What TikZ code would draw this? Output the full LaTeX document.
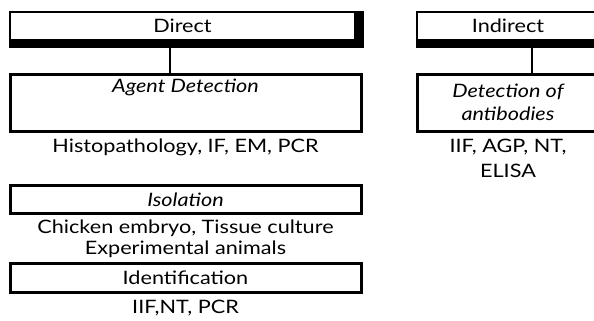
\documentclass[tikz,border=0pt]{standalone}
\usepackage{fontspec}
\setmainfont{Lato}[FakeStretch=1.17]
\usetikzlibrary{positioning}

\tikzset{
  headbox/.style={draw, line width=1.5pt, minimum width=345pt, minimum height=28pt,
    inner sep=0pt, font=\fontsize{18.5}{20}\selectfont},
  databox/.style={draw, line width=3pt, minimum width=351pt, inner sep=0pt,
    font=\fontsize{18.5}{20}\selectfont\itshape},
  methtext/.style={align=center, inner sep=0pt, font=\fontsize{18.5}{21}\selectfont},
  link/.style={line width=2pt}
}

\begin{document}
\begin{tikzpicture}[x=1pt,y=-1pt]
  \path[use as bounding box] (0,0) rectangle (594,321);
  \clip (0,0) rectangle (594,321);

  % headers, thick bars on the right and below
  \node (direct) [headbox] at (182.5,26) {Direct};
  \node (indirect) [headbox, minimum width=182pt] at (508,26) {Indirect};
  \foreach \h in {direct,indirect} {
    \fill (\h.south west) rectangle ([shift={(8,7)}]\h.south east);
    \fill (\h.north east) rectangle ([shift={(8,0)}]\h.south east);
  }

  % direct branch
  \node (agent) [databox, minimum height=57pt] at (185.5,102.5) {};
  \node (agenttxt) [below=6pt of agent.north, inner sep=0pt,
    font=\fontsize{18.5}{20}\selectfont\itshape] {Agent Detection};
  \node (agentmeth) [methtext, below=6pt of agent] {Histopathology, IF, EM, PCR};
  \node (isol) [databox, minimum height=28pt] at (185.5,199.5) {Isolation};
  \node (isolmeth) [methtext, below=5pt of isol] {Chicken embryo, Tissue culture\\Experimental animals};
  \node (ident) [databox, minimum height=29pt, font=\fontsize{18.5}{20}\selectfont] at (185.5,278) {Identification};
  \node (identmeth) [methtext, below=6pt of ident] {IIF,NT, PCR};

  % indirect branch
  \node (antib) [databox, minimum width=182pt, minimum height=57pt, align=center,
    font=\fontsize{18.5}{23}\selectfont\itshape] at (508,102.5) {Detection of\\antibodies};
  \node (antibmeth) [methtext, below=6pt of antib, font=\fontsize{18.5}{25}\selectfont]
    {IIF, AGP, NT,\\ELISA};

  \coordinate (dlink) at ([shift={(-12.5,7)}]direct.south);
  \coordinate (ilink) at ([shift={(24,7)}]indirect.south);
  \draw[link] (dlink) -- (dlink |- agent.north);
  \draw[link] (ilink) -- (ilink |- antib.north);
\end{tikzpicture}
\end{document}
